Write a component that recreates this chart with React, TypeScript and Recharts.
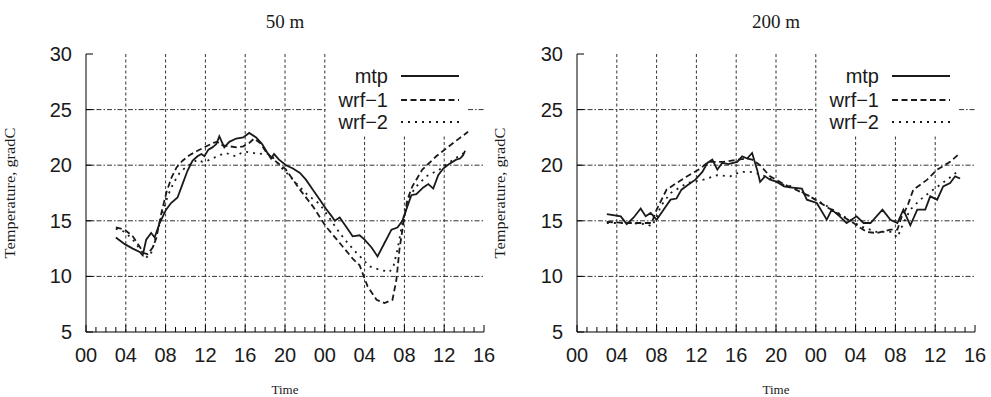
import { Line, LineChart, ReferenceLine, XAxis, YAxis } from "recharts";

type Pt = [number, number];

// hours since 00:00 of day 1, temperature in gradC
const mtp50: Pt[] = [
  [3.0, 13.5], [3.9, 12.9], [4.7, 12.5], [5.4, 12.2], [5.7, 11.9], [6.05, 13.3], [6.55, 13.9],
  [6.9, 13.5], [7.4, 14.8], [8.05, 16.0], [8.55, 16.6], [9.2, 17.1], [9.7, 18.3], [10.2, 19.5],
  [10.7, 20.4], [11.2, 20.8], [11.6, 21.0], [11.9, 20.8], [12.3, 21.4], [12.7, 21.6], [13.1, 21.9],
  [13.4, 22.6], [13.9, 21.6], [14.4, 22.1], [15.1, 22.4], [15.8, 22.5], [16.4, 22.9], [17.1, 22.5],
  [17.7, 21.9], [18.3, 21.0], [18.6, 20.6], [18.9, 21.0], [19.4, 20.5], [20.1, 20.0], [20.8, 19.7],
  [21.5, 19.3], [22.1, 18.7], [22.8, 17.8], [23.5, 16.9], [24.1, 16.1], [24.7, 15.4], [25.0, 15.0],
  [25.5, 15.3], [26.2, 14.4], [26.8, 13.6], [27.5, 13.7], [28.0, 13.3], [28.7, 12.6], [29.3, 11.8],
  [30.0, 13.0], [30.7, 14.2], [31.3, 14.4], [31.8, 15.0], [32.3, 16.3], [32.7, 17.3], [33.2, 17.4],
  [33.9, 18.0], [34.4, 18.3], [34.9, 17.9], [35.4, 19.1], [35.9, 19.7], [36.5, 20.1], [37.2, 20.5],
  [37.6, 20.6], [37.9, 20.9], [38.1, 21.3],
];
const wrf1_50: Pt[] = [
  [3.0, 14.4], [3.9, 14.2], [4.7, 13.6], [5.3, 12.8], [5.8, 12.1], [6.2, 12.0], [6.7, 12.6],
  [7.05, 13.4], [7.6, 15.8], [8.1, 17.6], [8.6, 18.9], [9.1, 19.8], [9.7, 20.4], [10.4, 20.9],
  [11.2, 21.3], [12.1, 21.7], [12.8, 22.0], [13.2, 22.1], [13.6, 21.8], [14.4, 21.7], [15.2, 21.6],
  [15.8, 21.7], [16.4, 22.0], [16.9, 22.4], [17.5, 22.0], [18.1, 21.2], [19.0, 20.4], [20.1, 19.6],
  [21.5, 17.8], [22.8, 16.3], [24.1, 14.5], [25.5, 13.0], [26.8, 11.6], [27.5, 11.0], [28.3, 9.1],
  [29.2, 7.9], [30.0, 7.6], [30.8, 7.9], [31.2, 9.7], [31.5, 12.4], [31.9, 14.8], [32.3, 16.9],
  [32.8, 18.1], [33.8, 19.6], [35.2, 20.8], [36.9, 22.0], [38.4, 23.0],
];
const wrf2_50: Pt[] = [
  [3.0, 14.3], [3.9, 14.0], [4.7, 13.3], [5.3, 12.6], [5.8, 12.0], [6.2, 11.7], [6.6, 12.2],
  [7.05, 13.6], [7.6, 15.4], [8.2, 17.2], [8.8, 18.4], [9.4, 19.3], [10.0, 19.8], [10.7, 20.2],
  [11.2, 20.5], [11.7, 20.3], [12.2, 20.4], [12.7, 20.6], [13.4, 20.9], [14.1, 21.1], [14.6, 20.9],
  [15.1, 20.8], [15.6, 21.1], [16.1, 21.2], [16.8, 21.1], [17.4, 21.0], [18.0, 21.1], [18.4, 21.0],
  [19.0, 20.5], [19.5, 19.9], [20.5, 19.0], [21.1, 18.4], [22.3, 17.3], [23.5, 16.5], [24.5, 15.2],
  [25.5, 13.9], [26.3, 13.0], [27.2, 12.1], [28.5, 10.9], [29.5, 10.6], [30.5, 10.4], [30.9, 10.9],
  [31.3, 12.4], [31.8, 14.8], [32.3, 16.9], [33.2, 18.1], [34.2, 19.0], [35.5, 19.6], [36.9, 20.5],
  [38.0, 21.1],
];

const mtp200: Pt[] = [
  [3.0, 15.6], [4.4, 15.4], [5.0, 14.7], [5.7, 15.3], [6.4, 16.1], [6.9, 15.4], [7.4, 15.7],
  [8.0, 15.1], [8.7, 16.0], [9.4, 16.9], [10.0, 17.0], [10.5, 17.8], [11.1, 18.2], [11.9, 18.7],
  [12.6, 19.4], [13.1, 20.2], [13.6, 20.5], [14.1, 19.6], [14.6, 20.2], [15.2, 20.1], [16.1, 20.3],
  [16.6, 20.8], [17.1, 20.6], [17.6, 21.1], [18.1, 19.6], [18.4, 18.5], [18.9, 19.0], [19.4, 18.7],
  [20.1, 18.5], [20.8, 18.1], [21.4, 18.0], [22.6, 17.9], [23.1, 16.9], [24.1, 16.6], [25.1, 15.1],
  [25.6, 16.0], [26.4, 15.4], [27.1, 14.8], [28.1, 15.4], [28.8, 14.8], [29.5, 14.8], [30.7, 16.0],
  [31.5, 15.1], [32.2, 14.8], [32.8, 16.0], [33.5, 14.6], [34.2, 16.0], [35.0, 16.0], [35.5, 17.2],
  [36.2, 16.9], [36.8, 18.1], [37.5, 18.4], [38.0, 19.0], [38.5, 18.8],
];
const wrf1_200: Pt[] = [
  [3.0, 14.9], [5.0, 14.8], [7.5, 14.8], [8.0, 16.0], [9.0, 17.8], [10.7, 18.8], [12.4, 19.7],
  [13.2, 20.3], [14.7, 20.3], [16.1, 20.5], [17.1, 20.6], [17.6, 20.5], [18.4, 20.0], [19.4, 19.0],
  [20.8, 18.3], [23.4, 17.2], [26.1, 15.7], [27.8, 14.8], [29.1, 14.0], [30.1, 13.9], [31.5, 14.2],
  [32.2, 14.2], [32.6, 15.3], [33.2, 16.3], [33.8, 17.8], [35.2, 18.7], [36.2, 19.6], [37.5, 20.3],
  [38.5, 21.1],
];
const wrf2_200: Pt[] = [
  [3.0, 14.8], [5.0, 14.8], [7.0, 14.7], [7.5, 14.5], [8.0, 15.3], [8.4, 16.3], [9.4, 17.5],
  [11.1, 18.4], [12.7, 18.7], [14.1, 19.1], [15.4, 19.0], [16.4, 19.4], [17.4, 19.4], [18.4, 19.2],
  [19.4, 18.8], [20.5, 18.3], [21.6, 18.1], [22.8, 17.5], [24.8, 16.5], [26.8, 15.4], [28.5, 14.5],
  [30.1, 14.0], [31.6, 14.0], [32.2, 13.5], [32.8, 14.8], [33.5, 16.0], [34.5, 16.9], [35.8, 17.8],
  [37.2, 18.7], [38.2, 19.4],
];

const allHours = Array.from({ length: 41 }, (_, i) => i);
const tempTicks = [5, 10, 15, 20, 25, 30];
const gridHours = [4, 8, 12, 16, 20, 24, 28, 32, 36];
const gridTemps = [10, 15, 20, 25];

const series = [
  { name: "mtp", dash: undefined as string | undefined },
  { name: "wrf\u22121", dash: "6 3.5" },
  { name: "wrf\u22122", dash: "2 5" },
];

// the key sits on a blank patch in the upper right; grid lines stop at its edges
const keyBox = { h1: 24.2, h2: 38.4, t: 22.6 };

const INK = "#1a1a1a";
const SANS = "'Liberation Sans', Arial, sans-serif";
const SERIF = "'Liberation Serif', 'Times New Roman', serif";
const hourLabel = (h: number) => String(h % 24).padStart(2, "0");
const rows = (pts: Pt[]) => pts.map(([h, t]) => ({ h, t }));

const BottomTick = ({ x, y, payload }: any) => {
  const major = payload.value % 4 === 0;
  return (
    <g>
      <line x1={x} x2={x} y1={y} y2={y - (major ? 7 : 5)} stroke="#000" />
      {major && (
        <text x={x} y={y + 30} textAnchor="middle" fontSize={20} fontFamily={SANS} fill={INK}>
          {hourLabel(payload.value)}
        </text>
      )}
    </g>
  );
};
const TopTick = ({ x, y, payload }: any) => (
  <line x1={x} x2={x} y1={y} y2={y + (payload.value % 4 === 0 ? 7 : 5)} stroke="#000" />
);
const LeftTick = ({ x, y, payload }: any) => (
  <g>
    <line x1={x} x2={x + 7} y1={y} y2={y} stroke="#000" />
    <text x={x - 14} y={y + 7} textAnchor="end" fontSize={20} fontFamily={SANS} fill={INK}>
      {payload.value}
    </text>
  </g>
);
const RightTick = ({ x, y }: any) => <line x1={x} x2={x - 7} y1={y} y2={y} stroke="#000" />;

const vDash = "3 2.5";
const hDash = "5 2 1.5 2";

function gridLines() {
  const out: JSX.Element[] = [];
  gridHours.forEach((h) => {
    const top = h > keyBox.h1 && h < keyBox.h2 ? keyBox.t : 30;
    out.push(
      <ReferenceLine key={"v" + h} segment={[{ x: h, y: 5 }, { x: h, y: top }]} xAxisId="b" yAxisId="l"
        stroke="#333" strokeDasharray={vDash} ifOverflow="visible" />
    );
  });
  gridTemps.forEach((t) => {
    const parts: [number, number][] = t > keyBox.t ? [[0, keyBox.h1], [keyBox.h2, 40]] : [[0, 40]];
    parts.forEach(([a, b], j) =>
      out.push(
        <ReferenceLine key={"g" + t + "-" + j} segment={[{ x: a, y: t }, { x: b, y: t }]} xAxisId="b"
          yAxisId="l" stroke="#333" strokeDasharray={hDash} ifOverflow="visible" />
      )
    );
  });
  return out;
}

function Panel({ left, width, yWidth, rightMargin, data }: {
  left: number; width: number; yWidth: number; rightMargin: number; data: Pt[][];
}) {
  return (
    <div style={{ position: "absolute", left, top: 0 }}>
      <LineChart width={width} height={397} margin={{ top: 54, right: rightMargin, bottom: 0, left: 0 }}>
        {gridLines()}
        {data.map((pts, i) => (
          <Line key={series[i].name} data={rows(pts)} dataKey="t" xAxisId="b" yAxisId="l" type="linear"
            stroke={INK} strokeWidth={1.8} strokeDasharray={series[i].dash} dot={false}
            activeDot={false} isAnimationActive={false} />
        ))}
        <XAxis xAxisId="b" dataKey="h" type="number" domain={[0, 40]} ticks={allHours} interval={0}
          height={65} tickSize={0} tickMargin={0} tickLine={false} axisLine={{ stroke: "#000" }}
          tick={(p: any) => <BottomTick {...p} />} />
        <XAxis xAxisId="t" orientation="top" dataKey="h" type="number" domain={[0, 40]} ticks={allHours}
          interval={0} height={0} tickSize={0} tickMargin={0} tickLine={false} axisLine={{ stroke: "#000" }}
          tick={(p: any) => <TopTick {...p} />} />
        <YAxis yAxisId="l" type="number" domain={[5, 30]} ticks={tempTicks} interval={0} width={yWidth}
          tickSize={0} tickMargin={0} tickLine={false} axisLine={{ stroke: "#000" }}
          tick={(p: any) => <LeftTick {...p} />} />
        <YAxis yAxisId="r" orientation="right" type="number" domain={[5, 30]} ticks={tempTicks} interval={0}
          width={0} tickSize={0} tickMargin={0} tickLine={false} axisLine={{ stroke: "#000" }}
          tick={(p: any) => <RightTick {...p} />} />
      </LineChart>
    </div>
  );
}

function Decor({ plotLeft, title, yLabelX }: { plotLeft: number; title: string; yLabelX: number }) {
  const cx = plotLeft + 199;
  const rowsY = [76, 100, 122];
  return (
    <g>
      <text x={cx} y={28} textAnchor="middle" fontSize={19} fontFamily={SERIF} fill={INK}>{title}</text>
      <text x={cx} y={394} textAnchor="middle" fontSize={13} fontFamily={SERIF} fill={INK}>Time</text>
      <text transform={`translate(${yLabelX},193) rotate(-90)`} textAnchor="middle" fontSize={14}
        fontFamily={SERIF} fill={INK} textLength={131} lengthAdjust="spacingAndGlyphs">
        Temperature, gradC
      </text>
      {series.map((s, i) => (
        <g key={s.name}>
          <text x={plotLeft + 302} y={rowsY[i] + 7} textAnchor="end" fontSize={20} fontFamily={SANS} fill={INK}>
            {s.name}
          </text>
          <line x1={plotLeft + 315} x2={plotLeft + 373} y1={rowsY[i]} y2={rowsY[i]} stroke={INK}
            strokeWidth={1.8} strokeDasharray={s.dash} />
        </g>
      ))}
    </g>
  );
}

export default function App() {
  return (
    <div style={{ position: "absolute", left: 0, top: 0, width: 991, height: 397, background: "#fff", overflow: "hidden" }}>
      <Panel left={0} width={495} yWidth={86} rightMargin={11} data={[mtp50, wrf1_50, wrf2_50]} />
      <Panel left={495} width={496} yWidth={82} rightMargin={16} data={[mtp200, wrf1_200, wrf2_200]} />
      <svg width={991} height={397} style={{ position: "absolute", left: 0, top: 0, pointerEvents: "none" }}>
        <Decor plotLeft={86} title="50 m" yLabelX={15} />
        <Decor plotLeft={577} title="200 m" yLabelX={505} />
      </svg>
    </div>
  );
}
